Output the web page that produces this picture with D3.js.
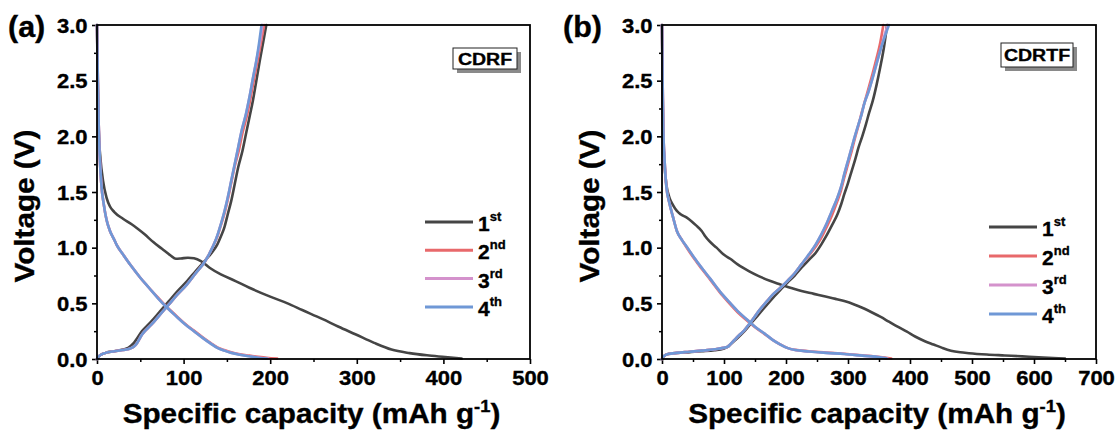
<!DOCTYPE html>
<html>
<head>
<meta charset="utf-8">
<script src="https://cdn.jsdelivr.net/npm/d3@7"></script>
<style>
  body { margin: 0; background: #fff; }
  text { font-family: "Liberation Sans", Arial, sans-serif; font-weight: bold; fill: #000; stroke: #000; stroke-width: 0.35px; }
</style>
</head>
<body>
<svg id="chart" width="1118" height="430"></svg>
<script>
// ---- cycle legend ----
const cycleNums = ["1", "2", "3", "4"];
const cycleSups = ["st", "nd", "rd", "th"];
const cycleColors = ["#454545", "#e8696b", "#d492cc", "#6f98d6"];

// ---- axis ticks ----
const voltTicks = [0, 0.5, 1.0, 1.5, 2.0, 2.5, 3.0];
const voltMinor = [0.25, 0.75, 1.25, 1.75, 2.25, 2.75];
const capTicksA = [0, 100, 200, 300, 400, 500];
const capMinorA = [50, 150, 250, 350, 450];
const capTicksB = [0, 100, 200, 300, 400, 500, 600, 700];
const capMinorB = [50, 150, 250, 350, 450, 550, 650];

// ---- CDRF: [capacity mAh/g, voltage V] ----
const cdrfDis1 = [[0,3.0],[1,2.4],[2,2.05],[4,1.8],[7,1.6],[11,1.45],[15,1.37],[20,1.32],[30,1.26],[40,1.21],[47,1.17],[55,1.12],[65,1.05],[75,0.99],[85,0.93],[91,0.9],[97,0.903],[105,0.91],[112,0.905],[120,0.88],[130,0.82],[143,0.76],[160,0.7],[176,0.64],[200,0.56],[220,0.5],[237,0.44],[260,0.36],[279,0.29],[299,0.22],[320,0.145],[340,0.085],[361,0.053],[381,0.033],[402,0.018],[421,0.004]];
const cdrfChg1 = [[0,0],[3,0.03],[10,0.055],[20,0.07],[30,0.085],[36,0.1],[42,0.14],[52,0.25],[63,0.34],[73,0.43],[83,0.52],[93,0.61],[104,0.7],[114,0.79],[126,0.895],[134,0.97],[139,1.03],[143,1.1],[147,1.18],[151,1.3],[155,1.42],[159,1.57],[163,1.72],[168,1.87],[172,2.02],[176,2.17],[180,2.32],[184,2.5],[188,2.68],[192,2.85],[195.5,3.0]];
const cdrfDis2 = [[0,3.0],[1,2.5],[2,2.1],[3,1.85],[5,1.57],[8,1.38],[11,1.25],[15,1.15],[20,1.07],[23,1.02],[30,0.94],[40,0.83],[50,0.73],[60,0.64],[70,0.555],[81,0.465],[92,0.385],[102,0.315],[112,0.255],[122,0.195],[131,0.145],[139,0.105],[147,0.08],[155,0.06],[165,0.043],[176,0.03],[186,0.02],[196,0.011],[208,0.003]];
const cdrfChg2 = [[0,0],[3,0.03],[10,0.055],[20,0.07],[30,0.08],[40,0.1],[45,0.13],[52,0.22],[63,0.31],[73,0.4],[83,0.49],[93,0.58],[104,0.67],[114,0.77],[125,0.88],[130,0.95],[135,1.03],[139,1.1],[143,1.2],[147,1.3],[151,1.43],[155,1.58],[159,1.73],[164,1.88],[168,2.03],[173,2.18],[177,2.33],[181,2.5],[185,2.66],[189,2.83],[193,3.0]];
const cdrfDis3 = [[0,3.0],[1,2.5],[2,2.1],[3,1.85],[5,1.57],[8,1.38],[11,1.25],[15,1.15],[20,1.07],[23,1.02],[30,0.94],[40,0.83],[50,0.73],[60,0.64],[70,0.55],[81,0.46],[92,0.38],[102,0.31],[112,0.25],[122,0.19],[131,0.14],[139,0.1],[147,0.076],[155,0.056],[165,0.039],[176,0.025],[186,0.013],[198,0.003]];
const cdrfChg3 = [[0,0],[3,0.03],[10,0.055],[20,0.07],[30,0.08],[40,0.1],[45,0.13],[52,0.22],[63,0.31],[73,0.4],[83,0.49],[93,0.58],[104,0.67],[114,0.77],[125,0.88],[130,0.95],[135,1.03],[139,1.11],[143,1.21],[147,1.32],[151,1.45],[155,1.6],[159,1.75],[163,1.9],[167,2.05],[172,2.2],[176,2.35],[180,2.52],[184,2.68],[188,2.84],[191,3.0]];
const cdrfDis4 = [[0,3.0],[1,2.5],[2,2.1],[3,1.85],[5,1.57],[8,1.38],[11,1.25],[15,1.15],[20,1.07],[23,1.02],[30,0.94],[40,0.83],[50,0.73],[60,0.64],[70,0.55],[81,0.46],[92,0.38],[102,0.31],[112,0.25],[122,0.19],[131,0.14],[139,0.1],[147,0.075],[155,0.055],[165,0.038],[176,0.024],[186,0.012],[196,0.003]];
const cdrfChg4 = [[0,0],[3,0.03],[10,0.055],[20,0.07],[30,0.08],[40,0.1],[45,0.13],[52,0.22],[63,0.31],[73,0.4],[83,0.49],[93,0.58],[104,0.67],[114,0.77],[125,0.88],[130,0.95],[135,1.03],[139,1.11],[143,1.21],[147,1.32],[151,1.45],[155,1.6],[159,1.75],[163,1.9],[167,2.05],[172,2.2],[176,2.35],[180,2.52],[184,2.68],[187,2.83],[190,3.0]];

// ---- CDRTF: [capacity mAh/g, voltage V] ----
const cdrtfDis1 = [[0,3.0],[1,2.4],[2,2.0],[4,1.75],[7,1.57],[12,1.45],[18,1.38],[24,1.33],[30,1.3],[40,1.27],[47,1.24],[55,1.2],[64,1.15],[70,1.1],[76,1.06],[88,1.0],[99,0.94],[110,0.9],[122,0.85],[140,0.79],[156,0.745],[175,0.7],[191,0.67],[210,0.635],[225,0.61],[245,0.585],[260,0.565],[280,0.54],[294,0.52],[310,0.49],[323,0.46],[338,0.42],[352,0.38],[366,0.335],[380,0.29],[395,0.245],[409,0.2],[424,0.16],[438,0.13],[452,0.1],[466,0.075],[481,0.06],[495,0.052],[524,0.04],[553,0.032],[581,0.024],[615,0.014],[650,0.003]];
const cdrtfChg1 = [[0,0],[3,0.025],[10,0.045],[24,0.054],[45,0.062],[64,0.07],[85,0.08],[99,0.093],[106,0.11],[110,0.13],[120,0.18],[133,0.25],[145,0.33],[156,0.4],[168,0.48],[179,0.55],[191,0.62],[202,0.685],[214,0.75],[225,0.82],[237,0.89],[248,0.955],[257,1.03],[265,1.105],[274,1.2],[283,1.3],[289,1.39],[294,1.48],[300,1.58],[306,1.69],[312,1.8],[317,1.9],[323,2.0],[329,2.11],[334,2.21],[340,2.32],[346,2.46],[352,2.62],[358,2.8],[363,3.0]];
const cdrtfDis2 = [[0,3.0],[1,2.5],[2,2.1],[4,1.8],[7,1.55],[12,1.4],[18,1.27],[24,1.15],[32,1.07],[41,0.99],[52,0.9],[64,0.81],[78,0.71],[93,0.6],[107,0.51],[122,0.42],[136,0.35],[150,0.285],[165,0.225],[179,0.17],[191,0.13],[202,0.1],[215,0.082],[237,0.07],[265,0.058],[294,0.047],[323,0.033],[352,0.018],[370,0.004]];
const cdrtfChg2 = [[0,0],[3,0.025],[10,0.045],[24,0.055],[45,0.065],[64,0.075],[85,0.088],[99,0.1],[106,0.11],[110,0.13],[120,0.19],[133,0.26],[145,0.345],[156,0.43],[168,0.51],[179,0.58],[191,0.64],[202,0.7],[214,0.77],[225,0.85],[237,0.93],[248,1.01],[257,1.09],[265,1.18],[274,1.29],[283,1.42],[289,1.52],[294,1.63],[300,1.75],[306,1.87],[311,1.98],[317,2.1],[322,2.21],[328,2.33],[334,2.45],[340,2.57],[346,2.7],[352,2.84],[357,3.0]];
const cdrtfDis3 = [[0,3.0],[1,2.5],[2,2.1],[4,1.8],[7,1.55],[12,1.4],[18,1.27],[24,1.15],[32,1.07],[41,1.0],[52,0.91],[64,0.82],[78,0.72],[93,0.61],[107,0.52],[122,0.43],[136,0.36],[150,0.29],[165,0.23],[179,0.17],[191,0.13],[202,0.1],[215,0.08],[237,0.068],[265,0.055],[294,0.045],[323,0.03],[352,0.015],[364,0.005]];
const cdrtfChg3 = [[0,0],[3,0.025],[10,0.045],[24,0.055],[45,0.065],[64,0.075],[85,0.088],[99,0.1],[106,0.11],[110,0.13],[120,0.19],[133,0.26],[145,0.345],[156,0.43],[168,0.51],[179,0.58],[191,0.64],[202,0.7],[214,0.77],[225,0.85],[237,0.94],[248,1.03],[257,1.12],[265,1.21],[274,1.33],[283,1.45],[289,1.55],[294,1.66],[300,1.78],[306,1.9],[311,2.0],[317,2.11],[322,2.2],[326,2.29],[333,2.4],[340,2.53],[346,2.65],[352,2.77],[358,2.89],[364,3.0]];
const cdrtfDis4 = [[0,3.0],[1,2.5],[2,2.1],[4,1.8],[7,1.55],[12,1.4],[18,1.27],[24,1.15],[32,1.07],[41,1.0],[52,0.91],[64,0.82],[78,0.72],[93,0.61],[107,0.52],[122,0.43],[136,0.36],[150,0.29],[165,0.23],[179,0.17],[191,0.13],[202,0.1],[215,0.08],[237,0.068],[265,0.055],[294,0.045],[323,0.03],[352,0.015],[362,0.006]];
const cdrtfChg4 = [[0,0],[3,0.025],[10,0.045],[24,0.055],[45,0.065],[64,0.075],[85,0.088],[99,0.1],[106,0.11],[110,0.13],[120,0.19],[133,0.26],[145,0.345],[156,0.43],[168,0.51],[179,0.58],[191,0.64],[202,0.7],[214,0.77],[225,0.85],[237,0.94],[248,1.03],[257,1.12],[265,1.21],[274,1.33],[283,1.45],[289,1.55],[294,1.66],[300,1.78],[306,1.9],[311,2.0],[317,2.11],[322,2.2],[326,2.29],[333,2.4],[340,2.53],[346,2.65],[352,2.77],[359,2.89],[366,3.0]];

const SX = 1.1; // horizontal stretch applied to lettering

const svg = d3.select("#chart");
svg.append("rect").attr("width", 1118).attr("height", 430).attr("fill", "#fff");

function drawPanel(o) {
  const x = d3.scaleLinear().domain(o.xDomain).range([o.left, o.right]);
  const y = d3.scaleLinear().domain([0, 3]).range([o.bottom, o.top]);
  const g = svg.append("g");

  // minor ticks
  g.append("g").attr("transform", `translate(0,${o.bottom})`)
    .call(d3.axisBottom(x).tickValues(o.xMinor).tickSize(3).tickFormat(""))
    .call(a => a.select(".domain").remove())
    .call(a => a.selectAll("line").attr("stroke-width", 1.5));
  g.append("g").attr("transform", `translate(${o.left},0)`)
    .call(d3.axisLeft(y).tickValues(voltMinor).tickSize(3).tickFormat(""))
    .call(a => a.select(".domain").remove())
    .call(a => a.selectAll("line").attr("stroke-width", 1.5));

  // major ticks + labels
  g.append("g").attr("transform", `translate(0,${o.bottom})`)
    .call(d3.axisBottom(x).tickValues(o.xTicks).tickSize(5).tickPadding(7).tickFormat(d3.format("d")))
    .call(a => a.select(".domain").remove())
    .call(a => a.selectAll("line").attr("stroke-width", 1.6))
    .call(a => a.selectAll("text").attr("font-size", 20).attr("font-family", null)
      .attr("transform", `scale(${SX},1)`));
  g.append("g").attr("transform", `translate(${o.left},0)`)
    .call(d3.axisLeft(y).tickValues(voltTicks).tickSize(5).tickFormat(d3.format(".1f")))
    .call(a => a.select(".domain").remove())
    .call(a => a.selectAll("line").attr("stroke-width", 1.6))
    .call(a => a.selectAll("text").attr("font-size", 20).attr("font-family", null)
      .attr("x", -9.5 / SX).attr("dy", "0.36em")
      .attr("transform", `scale(${SX},1)`));

  // curves
  const line = d3.line().x(d => x(d[0])).y(d => y(d[1])).curve(d3.curveMonotoneX);
  o.series.forEach((pair, i) => {
    pair.forEach(pts => {
      g.append("path").attr("d", line(pts)).attr("fill", "none")
        .attr("stroke", cycleColors[i]).attr("stroke-width", 2.6)
        .attr("stroke-linejoin", "round").attr("stroke-linecap", "round");
    });
  });

  // frame
  g.append("rect").attr("x", o.left).attr("y", o.top)
    .attr("width", o.right - o.left).attr("height", o.bottom - o.top)
    .attr("fill", "none").attr("stroke", "#000").attr("stroke-width", 1.8);

  // axis titles
  const xt = g.append("text").attr("text-anchor", "middle").attr("font-size", 27.5)
    .attr("transform", `translate(${(o.left + o.right) / 2 - 2},${o.bottom + 64}) scale(1.08,1)`);
  xt.append("tspan").text("Specific capacity (mAh g");
  xt.append("tspan").attr("font-size", 17).attr("dy", -11).text("-1");
  xt.append("tspan").attr("dy", 11).text(")");

  g.append("text").attr("text-anchor", "middle").attr("font-size", 27.5)
    .attr("transform", `translate(${o.left - 63},${(o.top + o.bottom) / 2 + 14}) rotate(-90) scale(1.08,1)`)
    .text("Voltage (V)");

  // panel letter
  g.append("text").attr("font-size", 29)
    .attr("transform", `translate(${o.letterX},37) scale(1.05,1)`)
    .text(o.letter);

  // sample tag with drop shadow
  g.append("rect").attr("x", o.tag.x + 4).attr("y", o.tag.y + 4)
    .attr("width", o.tag.w).attr("height", o.tag.h).attr("fill", "#8a8a8a");
  g.append("rect").attr("x", o.tag.x).attr("y", o.tag.y)
    .attr("width", o.tag.w).attr("height", o.tag.h)
    .attr("fill", "#fff").attr("stroke", "#222").attr("stroke-width", 1);
  g.append("text").attr("text-anchor", "middle").attr("font-size", 17)
    .attr("transform", `translate(${o.tag.x + o.tag.w / 2},${o.tag.y + o.tag.h / 2 + 6}) scale(1.15,1)`)
    .text(o.tag.label);

  // legend
  cycleNums.forEach((n, i) => {
    const ly = o.legend.y + i * o.legend.dy;
    g.append("line").attr("x1", o.legend.x).attr("x2", o.legend.x + 48)
      .attr("y1", ly).attr("y2", ly)
      .attr("stroke", cycleColors[i]).attr("stroke-width", 3);
    const t = g.append("text").attr("font-size", 21)
      .attr("transform", `translate(${o.legend.x + 53},${ly + 9})`);
    t.append("tspan").text(n);
    t.append("tspan").attr("font-size", 13).attr("dy", -10).text(cycleSups[i]);
  });
}

drawPanel({
  left: 97, right: 530, top: 25, bottom: 359,
  xDomain: [0, 500], xTicks: capTicksA, xMinor: capMinorA,
  letter: "(a)", letterX: 8,
  tag: { x: 453, y: 48, w: 64, h: 21, label: "CDRF" },
  legend: { x: 425, y: 222, dy: 28.3 },
  series: [[cdrfDis1, cdrfChg1], [cdrfDis2, cdrfChg2], [cdrfDis3, cdrfChg3], [cdrfDis4, cdrfChg4]]
});

drawPanel({
  left: 662, right: 1096, top: 25, bottom: 359,
  xDomain: [0, 700], xTicks: capTicksB, xMinor: capMinorB,
  letter: "(b)", letterX: 563,
  tag: { x: 1001, y: 43, w: 72, h: 24, label: "CDRTF" },
  legend: { x: 989, y: 227, dy: 29 },
  series: [[cdrtfDis1, cdrtfChg1], [cdrtfDis2, cdrtfChg2], [cdrtfDis3, cdrtfChg3], [cdrtfDis4, cdrtfChg4]]
});
</script>
</body>
</html>
